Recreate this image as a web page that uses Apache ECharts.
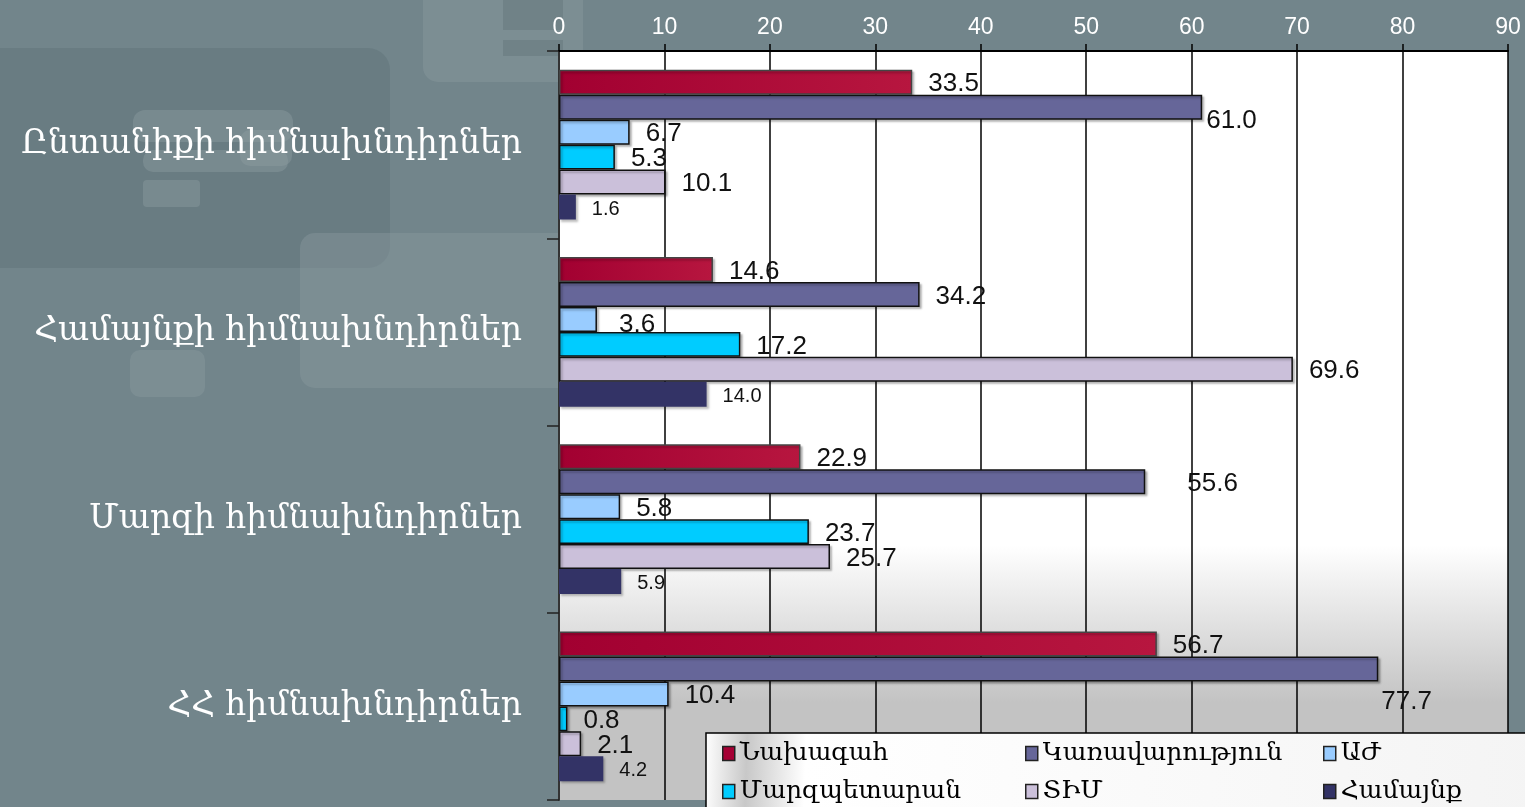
<!DOCTYPE html>
<html>
<head>
<meta charset="utf-8">
<script src="https://cdn.jsdelivr.net/npm/echarts@6/dist/echarts.min.js"></script>
<style>
html, body { margin: 0; padding: 0; background: #72858b; }
#chart { width: 1525px; height: 807px; }
</style>
</head>
<body>
<div id="chart"></div>
<script>
// categories (top to bottom) and series
var categories = ['Ընտանիքի հիմնախնդիրներ', 'Համայնքի հիմնախնդիրներ', 'Մարզի հիմնախնդիրներ', 'ՀՀ հիմնախնդիրներ'];
var seriesNames = ['Նախագահ', 'Կառավարություն', 'ԱԺ', 'Մարզպետարան', 'ՏԻՄ', 'Համայնք'];

var president   = [33.5, 14.6, 22.9, 56.7];
var government  = [61.0, 34.2, 55.6, 77.7];
var parliament  = [6.7, 3.6, 5.8, 10.4];
var regionGov   = [5.3, 17.2, 23.7, 0.8];
var localGov    = [10.1, 69.6, 25.7, 2.1];
var community   = [1.6, 14.0, 5.9, 4.2];

var xMin = 0, xMax = 90, xStep = 10;

var seriesValues = [president, government, parliament, regionGov, localGov, community];
var seriesColors = [
	new echarts.graphic.LinearGradient(0, 0, 1, 0, [{offset: 0, color: '#a20031'}, {offset: 1, color: '#b7163f'}]),
	'#666699', '#99ccff', '#00ccff', '#cbc0da', '#333366'
];
var legendColors = ['#a50034', '#666699', '#99ccff', '#00ccff', '#cbc0da', '#333366'];
var borderColors = ['#444', '#111', '#111', '#111', '#111', '#333366'];

// a few labels sit off the usual spot (series-index : [dx, dy])
var labelNudge = {'1-0': [-12, 14], '1-2': [26, 2], '1-3': [-13, 33], '2-1': [6, 5]};

// legend cells: 2 rows x 3 columns
var legendCols = [722, 1025, 1323];
var legendRows = [741, 779];

var armFont = '"DejaVu Serif", "Noto Sans", serif';

var myChart = echarts.init(document.getElementById('chart'));

var series = seriesValues.map(function (vals, s) {
	return {
		name: seriesNames[s],
		type: 'bar',
		barGap: '0%',
		barCategoryGap: '20%',
		z: 2,
		itemStyle: {
			color: seriesColors[s],
			borderColor: borderColors[s],
			borderWidth: s == 5 ? 0 : 1.5,
			shadowColor: 'rgba(0,0,0,0.25)',
			shadowOffsetX: 2,
			shadowOffsetY: 2,
			shadowBlur: 2
		},
		label: {
			show: true,
			position: 'right',
			distance: 16,
			offset: [0, 2],
			color: '#111',
			fontFamily: '"Liberation Sans", Arial, sans-serif',
			fontSize: s == 5 ? 20 : 26,
			formatter: function (p) { return p.value.toFixed(1); }
		},
		data: vals.map(function (v, i) {
			var n = labelNudge[s + '-' + i];
			return n ? {value: v, label: {offset: n}} : v;
		})
	};
});

var legends = seriesNames.map(function (n, k) {
	return {
		data: [{name: n, itemStyle: {color: legendColors[k], borderColor: '#222', borderWidth: 1.5}}],
		left: legendCols[k % 3],
		top: legendRows[Math.floor(k / 3)],
		padding: 0,
		icon: 'rect',
		itemWidth: 12,
		itemHeight: 14,
		z: 6,
		selectedMode: false,
		textStyle: {fontFamily: armFont, fontSize: 25, color: '#000'}
	};
});

var option = {
	backgroundColor: '#72858b',
	animation: false,
	graphic: [
		// background decoration
		{type: 'rect', z: -10, shape: {x: -20, y: 48, width: 410, height: 220, r: 22}, style: {fill: 'rgba(90,108,114,0.35)'}},
		{type: 'rect', z: -10, shape: {x: 133, y: 110, width: 160, height: 32, r: 12}, style: {fill: 'rgba(140,155,160,0.45)'}},
		{type: 'rect', z: -10, shape: {x: 240, y: 130, width: 52, height: 36, r: 10}, style: {fill: 'rgba(140,155,160,0.45)'}},
		{type: 'rect', z: -10, shape: {x: 143, y: 150, width: 145, height: 22, r: 10}, style: {fill: 'rgba(140,155,160,0.45)'}},
		{type: 'rect', z: -10, shape: {x: 143, y: 180, width: 57, height: 27, r: 4}, style: {fill: 'rgba(140,155,160,0.45)'}},
		{type: 'rect', z: -10, shape: {x: 300, y: 233, width: 300, height: 155, r: 15}, style: {fill: 'rgba(140,155,160,0.40)'}},
		{type: 'rect', z: -10, shape: {x: 130, y: 350, width: 75, height: 47, r: 10}, style: {fill: 'rgba(140,155,160,0.40)'}},
		{type: 'rect', z: -10, shape: {x: 423, y: -20, width: 160, height: 102, r: 15}, style: {fill: 'rgba(140,155,160,0.40)'}},
		{type: 'rect', z: -10, shape: {x: 503, y: 0, width: 60, height: 30}, style: {fill: 'rgba(100,118,124,0.5)'}},
		{type: 'rect', z: -10, shape: {x: 503, y: 40, width: 60, height: 16}, style: {fill: 'rgba(100,118,124,0.5)'}},
		// legend box
		{
			type: 'rect', z: 5,
			shape: {x: 706, y: 733, width: 840, height: 90},
			style: {
				fill: new echarts.graphic.LinearGradient(0, 0, 1, 0.3, [
					{offset: 0, color: '#ffffff'},
					{offset: 0.05, color: '#c8c8c8'},
					{offset: 0.12, color: '#ffffff'},
					{offset: 1, color: '#f4f4f4'}
				]),
				stroke: '#000',
				lineWidth: 1.5
			}
		}
	],
	legend: legends,
	grid: {
		left: 559,
		right: 17,
		top: 51,
		bottom: 7,
		show: true,
		borderWidth: 0,
		backgroundColor: new echarts.graphic.LinearGradient(0, 0, 0, 1, [
			{offset: 0, color: '#ffffff'},
			{offset: 0.66, color: '#ffffff'},
			{offset: 0.87, color: '#c3c3c3'},
			{offset: 1, color: '#c3c3c3'}
		])
	},
	xAxis: {
		type: 'value',
		position: 'top',
		min: xMin,
		max: xMax,
		interval: xStep,
		axisLine: {show: true, lineStyle: {color: '#000', width: 2}},
		axisTick: {show: true, length: 7, lineStyle: {color: '#000', width: 1.5}},
		axisLabel: {
			color: '#fff',
			fontSize: 23,
			margin: 12,
			fontFamily: '"Liberation Sans Narrow", "Liberation Sans", Arial, sans-serif'
		},
		splitLine: {show: true, lineStyle: {color: '#000', width: 1.5}}
	},
	yAxis: {
		type: 'category',
		inverse: true,
		data: categories,
		axisLine: {show: true, lineStyle: {color: '#333', width: 2}},
		axisTick: {show: true, length: 12, lineStyle: {color: '#222', width: 1.5}},
		axisLabel: {
			color: '#fff',
			fontSize: 33,
			margin: 37,
			padding: [8, 0, 0, 0],
			fontFamily: armFont
		}
	},
	series: series
};
myChart.setOption(option, true);
</script>
</body>
</html>
